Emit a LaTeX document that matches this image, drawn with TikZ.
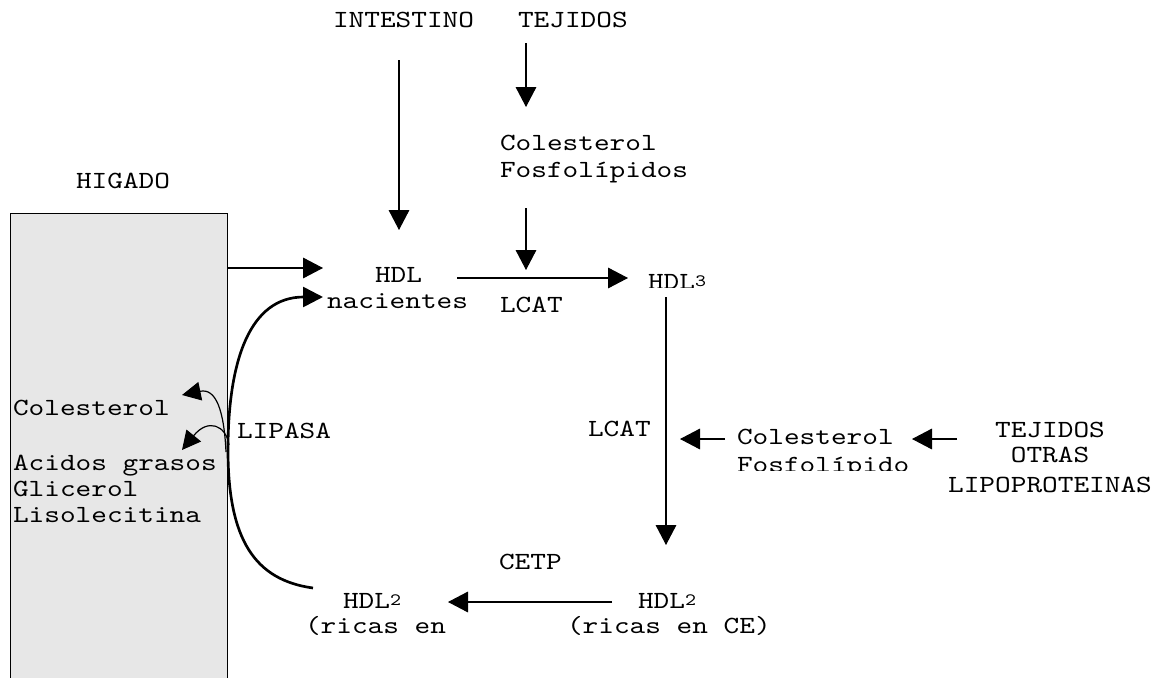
\documentclass[tikz,border=0pt]{standalone}
\usepackage{fontspec}
\setmainfont{lmmono10-regular.otf}[FakeStretch=1.21]
\usetikzlibrary{arrows.meta}
\newcommand\subdig[1]{\raisebox{1.6pt}{\fontsize{13}{13}\selectfont #1}}
\definecolor{liverfill}{RGB}{231,231,231}
\begin{document}
\begin{tikzpicture}[x=0.75pt,y=-0.75pt,
  txt/.style={anchor=base west,inner sep=0pt,outer sep=0pt,font=\fontsize{18.5}{18.5}\selectfont},
  ctxt/.style={txt,anchor=base},
  arr/.style={line width=0.8pt,-{Triangle[length=15pt,width=15.5pt]}},
  thinarr/.style={line width=0.9pt,-{Triangle[length=14pt,width=14pt]}},
  thickarr/.style={line width=2pt,-{Triangle[length=15pt,width=15pt]}},
]
\useasboundingbox (0,0) rectangle (1160,678);

% liver box
\path[fill=liverfill,draw=black,line width=0.75pt] (10,213) rectangle (227,700);
\node[txt] (higado) at (76,188) {HIGADO};

% top texts
\node[txt] (intestino) at (333,27) {INTESTINO};
\node[txt] (tejidosA) at (518,27) {TEJIDOS};
\node[txt] (colA) at (500,150) {Colesterol};
\node[txt] (fosA) at (500,177) {Fosfolípidos};

% HDL nacientes
\node[txt] (hdlN) at (375,282) {HDL};
\node[txt] (nacientes) at (327,308) {nacientes};
\node[txt] (lcatA) at (500,312) {LCAT};

% HDL3 (clipped)
\begin{scope}
\clip (630,250) rectangle (740,287);
\node[txt] (hdl3) at (648,289) {HDL\subdig{3}};
\end{scope}

\node[txt] (lcatB) at (588,436) {LCAT};
\node[txt] (colB) at (737,444) {Colesterol};
\begin{scope}
\clip (720,446) rectangle (930,470);
\node[txt] (fosB) at (737,472) {Fosfolípido};
\end{scope}

\node[ctxt] (tejidosB) at (1050,437) {TEJIDOS};
\node[ctxt] (otras) at (1050,462) {OTRAS};
\node[ctxt] (lipo) at (1050,492) {LIPOPROTEINAS};

\node[txt] (cetp) at (499,569) {CETP};
\node[txt] (hdl2R) at (638,608) {HDL\subdig{2}};
\node[txt] (ricasR) at (567,633) {(ricas en CE)};
\node[txt] (hdl2L) at (343,608) {HDL\subdig{2}};
\node[txt] (ricasL) at (305,633) {(ricas en};

% inside liver
\node[txt] (colL) at (13,415) {Colesterol};
\node[txt] (acidos) at (13,470) {Acidos grasos};
\node[txt] (glicerol) at (13,496) {Glicerol};
\node[txt] (liso) at (13,522) {Lisolecitina};
\node[txt] (lipasa) at (237,438) {LIPASA};

% connector end points
\coordinate (intS) at (399,60);   \coordinate (intE) at (399,230);
\coordinate (tejS) at (526,43);   \coordinate (tejE) at (526,107);
\coordinate (fosS) at (526,208);  \coordinate (fosE) at (526,270);
\coordinate (livS) at (227,268);  \coordinate (livE) at (323,268);
\coordinate (hdlS) at (457,278);  \coordinate (hdlE) at (628,278);
\coordinate (h3S) at (666,297);   \coordinate (h3E) at (666,545);
\coordinate (colBS) at (725,439); \coordinate (colBE) at (680,439);
\coordinate (tejBS) at (957,439); \coordinate (tejBE) at (912,439);
\coordinate (h2S) at (612,602);   \coordinate (h2E) at (448,602);
\coordinate (curS) at (313,588);  \coordinate (curM) at (228,450);
\coordinate (curE) at (323,297);
\coordinate (lipS1) at (226,452); \coordinate (lipE1) at (182,395);
\coordinate (lipS2) at (229,445); \coordinate (lipE2) at (182,450);

\draw[arr] (intS) -- (intE);
\draw[arr] (tejS) -- (tejE);
\draw[arr] (fosS) -- (fosE);
\draw[arr] (livS) -- (livE);
\draw[arr] (hdlS) -- (hdlE);
\draw[arr] (h3S) -- (h3E);
\draw[arr] (colBS) -- (colBE);
\draw[arr] (tejBS) -- (tejBE);
\draw[arr] (h2S) -- (h2E);

\draw[thickarr] (curS) .. controls (255,580) and (228,540) .. (curM)
   .. controls (228,360) and (250,297) .. (curE);
\draw[thinarr] (lipS1) .. controls (224,410) and (216,388) .. (lipE1);
\draw[thinarr] (lipS2) .. controls (226,425) and (208,418) .. (lipE2);
\end{tikzpicture}
\end{document}
